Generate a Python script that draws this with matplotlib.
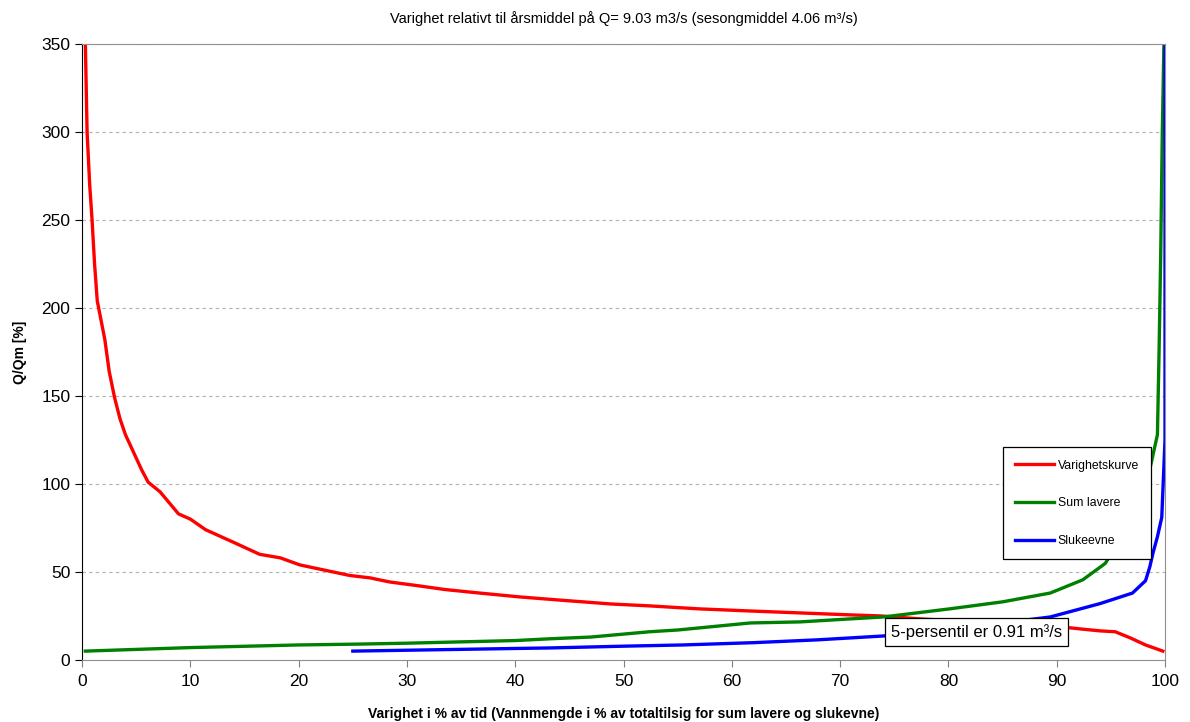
import matplotlib.pyplot as plt

plt.rcParams['font.family'] = ['Liberation Sans', 'DejaVu Sans']

# Varighetskurve (red)
red_x = [0.3, 0.46, 0.7, 0.92, 1.15, 1.4, 2.1, 2.5, 3.0, 3.5, 4.0, 4.9, 5.5, 6.1, 7.2, 8.9,
         10.0, 11.4, 14.1, 16.4, 18.3, 20.1, 22.4, 24.7, 26.6, 28.4, 31.2, 33.5, 36.7,
         40.4, 44.1, 48.8, 52.4, 57.0, 61.7, 66.3, 70.9, 73.7, 77.4, 81.1, 84.8, 88.5,
         92.2, 94.0, 95.4, 96.8, 98.2, 99.8]
red_y = [350, 300, 270, 250, 225, 204, 182, 164, 149, 137, 128, 116, 108, 101, 95.5, 83,
         80, 74, 66.5, 60, 58, 54, 51, 48, 46.6, 44.3, 42, 40, 38,
         35.8, 34, 31.8, 30.7, 29, 27.8, 26.7, 25.6, 25, 23.3, 22, 21.6, 20,
         17.6, 16.5, 16, 12.5, 8.5, 5]

# Sum lavere (green)
green_x = [0.3, 10, 20, 25.7, 30, 40, 43.2, 47, 52.4, 55, 61.7, 66.3, 70.9, 74, 80.1,
           85, 89.4, 92.4, 94.3, 94.5, 96, 97.5, 98.3, 99.3, 99.45, 99.6, 99.75, 99.9]
green_y = [5, 7, 8.5, 9, 9.5, 11, 12, 13, 16, 17, 21, 21.6, 23.3, 24.4, 29,
           33, 38, 45.5, 54, 55, 70, 85, 100, 128, 175, 229, 300, 350]

# Slukeevne (blue)
blue_x = [25, 40, 43.2, 50, 55.5, 62, 67.9, 74, 80.1, 85, 89.4, 94, 97, 98.2, 98.6, 98.9,
          99.3, 99.7, 100, 100]
blue_y = [5, 6.5, 6.8, 7.8, 8.5, 9.8, 11.4, 13.6, 18, 21, 24.4, 32, 38, 45, 53, 61,
          70, 81, 125, 350]

title = 'Varighet relativt til årsmiddel på Q= 9.03 m3/s (sesongmiddel 4.06 m³/s)'
note = '5-persentil er 0.91 m³/s'

fig = plt.figure(figsize=(11.9, 7.22), dpi=100)
ax = fig.add_axes([0.069, 0.086, 0.910, 0.853])

ax.plot(red_x, red_y, color='#ff0000', lw=2.4, label='Varighetskurve')
ax.plot(green_x, green_y, color='#008000', lw=2.4, label='Sum lavere')
ax.plot(blue_x, blue_y, color='#0000ff', lw=2.4, label='Slukeevne')

ax.set_xlim(0, 100)
ax.set_ylim(0, 350)
ax.set_xticks(range(0, 101, 10))
ax.set_yticks(range(0, 351, 50))
ax.tick_params(axis='both', labelsize=12.5, direction='out', length=5)
ax.tick_params(axis='x', color='#808080', pad=5)
ax.yaxis.grid(True, linestyle=(0, (3, 3)), color='#b0b0b0', lw=0.8)
ax.set_axisbelow(True)

for side in ['top', 'right', 'bottom']:
    ax.spines[side].set_color('#909090')
ax.spines['left'].set_color('black')

ax.set_title(title, fontsize=10.5, pad=15)
ax.set_xlabel('Varighet i % av tid (Vannmengde i % av totaltilsig for sum lavere og slukevne)',
              fontsize=10, fontweight='bold', labelpad=13)
ax.set_ylabel('Q/Qm [%]', fontsize=10, fontweight='bold', labelpad=10)

ax.text(82.6, 16, note, fontsize=12, ha='center', va='center',
        bbox=dict(boxstyle='square,pad=0.35', fc='white', ec='black', lw=0.9))

leg = ax.legend(loc='upper left', bbox_to_anchor=(0.850, 0.345), fontsize=8.8,
                frameon=True, fancybox=False, edgecolor='black', framealpha=1,
                labelspacing=2.1, handlelength=3.2, handletextpad=0.3,
                borderpad=1.0, borderaxespad=0)
leg.get_frame().set_linewidth(0.9)

fig.savefig('out.png', dpi=100)
